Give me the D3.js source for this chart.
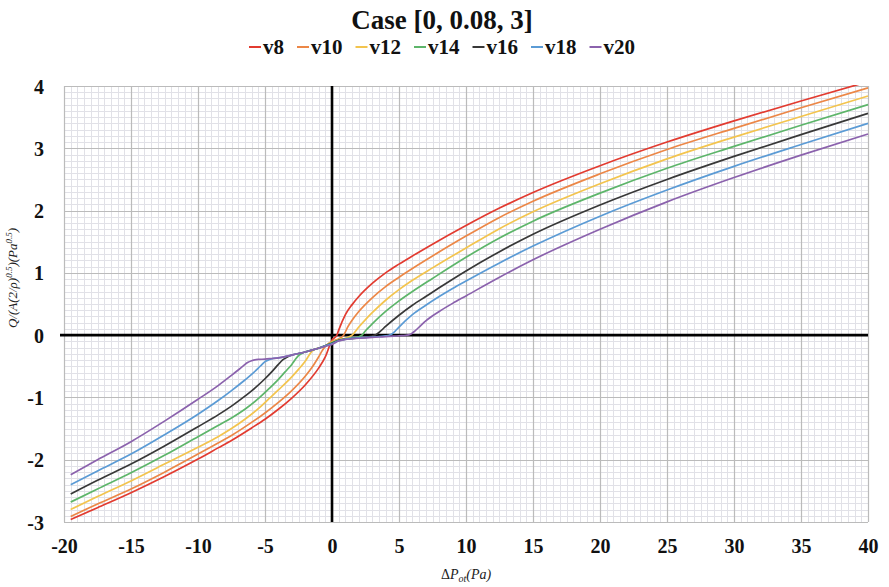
<!DOCTYPE html>
<html><head><meta charset="utf-8">
<script src="https://cdn.jsdelivr.net/npm/d3@7"></script>
<style>body{margin:0;background:#fff}svg{display:block}</style>
</head><body><svg id="c" width="889" height="587"></svg>
<script>
// ---------- data ----------
const seriesNames = ["v8","v10","v12","v14","v16","v18","v20"];
const seriesColors = ["#e23b30","#ec8747","#f3c44e","#5db56a","#383838","#5b9bd5","#8b62ad"];
const xTicks = [-20,-15,-10,-5,0,5,10,15,20,25,30,35,40];
const yTicks = [-3,-2,-1,0,1,2,3,4];
const titleText = "Case [0, 0.08, 3]";

const v8 = [[-19.5,-2.96],[-17.5,-2.77],[-15,-2.53],[-12.5,-2.27],[-10,-1.99],[-8.5,-1.81],[-7.5,-1.69],[-6,-1.49],[-5,-1.35],[-4,-1.19],[-3,-1.01],[-2,-0.80],[-1,-0.53],[-0.5,-0.35],[0,-0.08],[0.37,0.0],[0.5,0.08],[1,0.33],[1.5,0.49],[2,0.62],[3,0.83],[4,1.00],[5,1.14],[6,1.27],[7.5,1.46],[10,1.76],[12.5,2.04],[15,2.29],[20,2.72],[25,3.10],[30,3.44],[35,3.76],[40,4.07]];
const v10 = [[-19.5,-2.91],[-17.5,-2.71],[-15,-2.47],[-12.5,-2.20],[-10,-1.91],[-8.5,-1.73],[-7.5,-1.61],[-6,-1.40],[-5,-1.25],[-4,-1.08],[-3,-0.89],[-2,-0.66],[-1.5,-0.52],[-1,-0.35],[-0.7,-0.24],[-0.5,-0.18],[0,-0.10],[0.5,-0.06],[0.87,0.0],[1.2,0.14],[1.5,0.24],[2,0.38],[3,0.60],[4,0.78],[5,0.93],[6,1.07],[7.5,1.27],[10,1.59],[12.5,1.89],[15,2.15],[20,2.59],[25,2.98],[30,3.32],[35,3.65],[40,3.97]];
const v12 = [[-19.5,-2.80],[-17.5,-2.59],[-15,-2.34],[-12.5,-2.07],[-10,-1.80],[-8.5,-1.63],[-7.5,-1.50],[-6.5,-1.35],[-5.5,-1.18],[-4.7,-1.02],[-4,-0.88],[-3,-0.67],[-2.5,-0.55],[-2,-0.42],[-1.7,-0.32],[-1.5,-0.26],[-1.2,-0.22],[-1,-0.21],[-0.5,-0.17],[0,-0.11],[0.5,-0.075],[1,-0.05],[1.5,0.0],[2,0.13],[2.5,0.25],[3,0.36],[4,0.56],[5,0.73],[6,0.88],[7.5,1.08],[10,1.40],[12.5,1.71],[15,1.98],[20,2.43],[25,2.83],[30,3.18],[35,3.51],[40,3.84]];
const v14 = [[-19.5,-2.68],[-17.5,-2.47],[-15,-2.21],[-12.5,-1.93],[-10,-1.63],[-8.5,-1.45],[-7.5,-1.33],[-6.5,-1.19],[-5.5,-1.02],[-4.7,-0.86],[-4,-0.71],[-3.5,-0.59],[-3,-0.47],[-2.7,-0.38],[-2.5,-0.33],[-2.2,-0.285],[-2,-0.27],[-1.5,-0.24],[-1,-0.21],[-0.5,-0.17],[0,-0.12],[0.5,-0.08],[1,-0.06],[1.5,-0.045],[2,-0.025],[2.24,0.0],[2.5,0.07],[3,0.18],[4,0.38],[5,0.55],[6,0.70],[7.5,0.91],[10,1.25],[12.5,1.56],[15,1.83],[20,2.28],[25,2.68],[30,3.03],[35,3.37],[40,3.70]];
const v16 = [[-19.5,-2.55],[-17.5,-2.33],[-15,-2.07],[-12.5,-1.78],[-10,-1.47],[-8.5,-1.28],[-7.5,-1.14],[-6.5,-0.98],[-6,-0.895],[-5,-0.70],[-4.5,-0.59],[-4,-0.47],[-3.7,-0.40],[-3.4,-0.36],[-3,-0.32],[-2.5,-0.295],[-2,-0.27],[-1.5,-0.24],[-1,-0.21],[-0.5,-0.17],[0,-0.13],[0.5,-0.085],[1,-0.065],[2,-0.045],[2.9,-0.02],[3.3,0.01],[3.6,0.06],[4,0.14],[5,0.32],[6,0.48],[7,0.62],[8,0.76],[10,1.03],[12.5,1.34],[15,1.62],[20,2.09],[25,2.50],[30,2.87],[35,3.22],[40,3.56]];
const v18 = [[-19.5,-2.40],[-17.5,-2.18],[-15,-1.91],[-12.5,-1.60],[-10,-1.27],[-8.5,-1.05],[-7.5,-0.89],[-6.5,-0.72],[-6,-0.63],[-5.5,-0.53],[-5.2,-0.465],[-5,-0.425],[-4.7,-0.395],[-4.5,-0.38],[-4,-0.365],[-3.5,-0.345],[-3,-0.32],[-2.5,-0.295],[-2,-0.27],[-1.5,-0.24],[-1,-0.21],[-0.5,-0.17],[0,-0.14],[0.5,-0.09],[1,-0.065],[2,-0.045],[3,-0.03],[4,-0.012],[4.4,0.01],[4.7,0.06],[5,0.13],[6,0.33],[7,0.48],[8,0.62],[9,0.75],[10,0.87],[12.5,1.16],[15,1.43],[20,1.91],[25,2.33],[30,2.71],[35,3.06],[40,3.40]];
const v20 = [[-19.5,-2.24],[-17.5,-2.00],[-15,-1.71],[-12.5,-1.38],[-10,-1.03],[-8.5,-0.81],[-7.5,-0.645],[-7,-0.56],[-6.6,-0.49],[-6.3,-0.44],[-6,-0.41],[-5.5,-0.39],[-5,-0.385],[-4.5,-0.375],[-4,-0.365],[-3.5,-0.345],[-3,-0.32],[-2.5,-0.295],[-2,-0.27],[-1.5,-0.24],[-1,-0.21],[-0.5,-0.18],[0,-0.15],[0.5,-0.095],[1,-0.07],[2,-0.05],[3,-0.035],[4,-0.025],[5,-0.01],[5.5,-0.003],[5.9,0.02],[6.2,0.07],[6.6,0.15],[7,0.23],[8,0.38],[9,0.51],[10,0.63],[12.5,0.93],[15,1.21],[20,1.70],[25,2.14],[30,2.53],[35,2.89],[40,3.23]];
const seriesData = [v8,v10,v12,v14,v16,v18,v20];

// ---------- layout ----------
const svg = d3.select("#c");
const L = 64, R = 868, T = 86, B = 522;
const x = d3.scaleLinear().domain([-20,40]).range([L,R]);
const y = d3.scaleLinear().domain([-3,4]).range([B,T]);
const serif = "'Liberation Serif','Times New Roman',serif";

svg.append("rect").attr("width",889).attr("height",587).attr("fill","#fff");

// minor grid
const g = svg.append("g");
g.selectAll(".mx").data(d3.range(-20,40.01,0.5)).join("line")
  .attr("x1",d=>Math.round(x(d))+0.5).attr("x2",d=>Math.round(x(d))+0.5).attr("y1",T).attr("y2",B)
  .attr("stroke","#e1e1e7").attr("stroke-width",1);
g.selectAll(".my").data(d3.range(-3,4.001,0.1)).join("line")
  .attr("y1",d=>Math.round(y(d))+0.5).attr("y2",d=>Math.round(y(d))+0.5).attr("x1",L).attr("x2",R)
  .attr("stroke","#e1e1e7").attr("stroke-width",1);
// major grid
g.selectAll(".Mx").data(xTicks).join("line")
  .attr("x1",d=>Math.round(x(d))+0.5).attr("x2",d=>Math.round(x(d))+0.5).attr("y1",T).attr("y2",B)
  .attr("stroke","#bbbbbb").attr("stroke-width",1.2);
g.selectAll(".My").data(yTicks).join("line")
  .attr("y1",d=>Math.round(y(d))+0.5).attr("y2",d=>Math.round(y(d))+0.5).attr("x1",L).attr("x2",R)
  .attr("stroke","#bbbbbb").attr("stroke-width",1.2);

// zero axes
svg.append("line").attr("x1",x(0)).attr("x2",x(0)).attr("y1",T).attr("y2",B).attr("stroke","#000").attr("stroke-width",2.6);
svg.append("line").attr("x1",L-4).attr("x2",R).attr("y1",y(0)).attr("y2",y(0)).attr("stroke","#000").attr("stroke-width",2.6);

// axes with d3
const xAxis = d3.axisBottom(x).tickValues(xTicks).tickSize(0).tickPadding(0).tickFormat(d=>String(d));
const xa = svg.append("g").attr("transform",`translate(0,${B+17})`).call(xAxis);
xa.select(".domain").remove();
xa.selectAll("text").attr("font-family",serif).attr("font-weight","bold").attr("font-size",20).attr("fill","#111").attr("dy","0.7em");

const yAxis = d3.axisLeft(y).tickValues(yTicks).tickSize(0).tickPadding(0).tickFormat(d=>String(d));
const ya = svg.append("g").attr("transform",`translate(${L-20},0)`).call(yAxis);
ya.select(".domain").remove();
ya.selectAll("text").attr("font-family",serif).attr("font-weight","bold").attr("font-size",20).attr("fill","#111").attr("dy","0.35em");

// clip
svg.append("clipPath").attr("id","clip").append("rect").attr("x",L).attr("y",T-1).attr("width",R-L+1).attr("height",B-T+2);

// lines
const line = d3.line().x(d=>x(d[0])).y(d=>y(d[1])).curve(d3.curveMonotoneX);
svg.append("g").attr("clip-path","url(#clip)").selectAll("path").data(seriesData).join("path")
  .attr("d",line).attr("fill","none")
  .attr("stroke",(d,i)=>seriesColors[i]).attr("stroke-width",1.7);

// title
svg.append("text").attr("x",442).attr("y",29).attr("text-anchor","middle")
  .attr("font-family",serif).attr("font-weight","bold").attr("font-size",27).attr("fill","#111").text(titleText);

// legend
const lg = svg.append("g");
let cx = 0;
seriesNames.forEach((n,i)=>{
  const it = lg.append("g");
  it.append("line").attr("x1",0).attr("x2",12).attr("y1",0).attr("y2",0).attr("stroke",seriesColors[i]).attr("stroke-width",2);
  const t = it.append("text").attr("x",14).attr("y",7).attr("font-family",serif).attr("font-weight","bold").attr("font-size",21).attr("fill","#111").text(n);
  const w = 14 + t.node().getComputedTextLength();
  it.attr("transform",`translate(${cx},47)`);
  cx += w + 13;
});
const totalW = cx - 13;
lg.attr("transform",`translate(${442 - totalW/2},0)`);

// y-axis label
const yl = svg.append("text").attr("transform","translate(17,278) rotate(-90)").attr("text-anchor","middle")
  .attr("font-family",serif).attr("font-style","italic").attr("font-size",13).attr("fill","#222");
yl.append("tspan").text("Q/(A(2/ρ)");
yl.append("tspan").attr("font-size",9).attr("dy",-5).text("0.5");
yl.append("tspan").attr("dy",5).text(")(Pa");
yl.append("tspan").attr("font-size",9).attr("dy",-5).text("0.5");
yl.append("tspan").attr("dy",5).text(")");

// x-axis label
const xl = svg.append("text").attr("x",(L+R)/2).attr("y",579).attr("text-anchor","middle")
  .attr("font-family",serif).attr("font-size",14).attr("fill","#222");
xl.append("tspan").text("Δ");
xl.append("tspan").attr("font-style","italic").text("P");
xl.append("tspan").attr("font-style","italic").attr("font-size",10).attr("dy",3).text("ot");
xl.append("tspan").attr("font-style","italic").attr("dy",-3).text("(Pa)");
</script></body></html>
